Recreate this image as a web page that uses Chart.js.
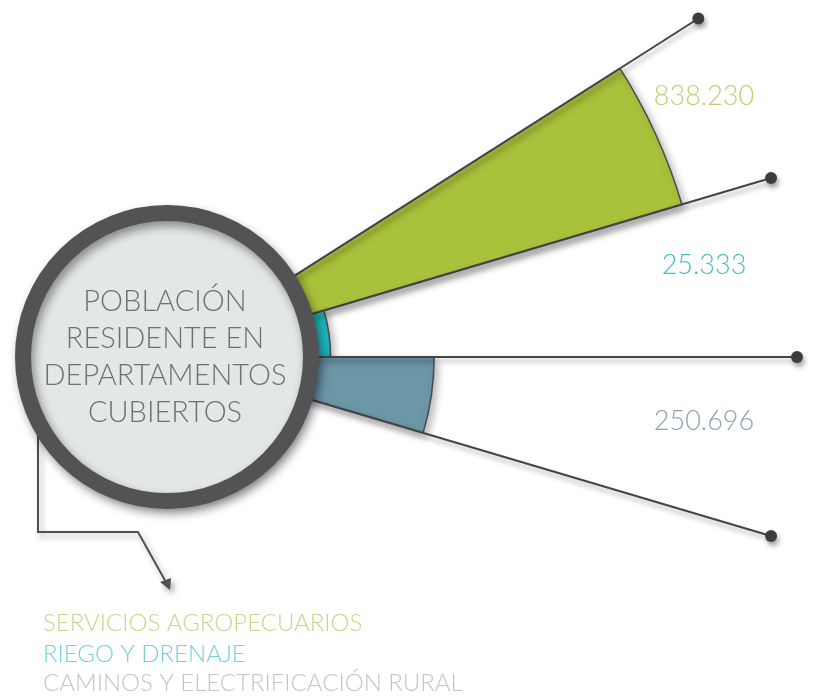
<!DOCTYPE html>
<html lang="es">
<head>
<meta charset="utf-8">
<title>Población residente en departamentos cubiertos</title>
<script src="https://cdn.jsdelivr.net/npm/chart.js@4.4.1/dist/chart.umd.min.js"></script>
<style>
  html, body { margin: 0; padding: 0; background: #fff; }
  #wrap { width: 830px; height: 699px; }
</style>
</head>
<body>
<div id="wrap"><canvas id="chart" width="830" height="699"></canvas></div>
<script>
// Población residente por programa
const categories  = ['SERVICIOS AGROPECUARIOS', 'RIEGO Y DRENAJE', 'CAMINOS Y ELECTRIFICACIÓN RURAL'];
const population  = [838230, 25333, 250696];
const valueLabels = ['838.230', '25.333', '250.696'];
const hubLines    = ['POBLACIÓN', 'RESIDENTE EN', 'DEPARTAMENTOS', 'CUBIERTOS'];

const sliceColors  = ['#a9c23b', '#1fb6bf', '#6b97a7'];
const labelColors  = ['#c6ca74', '#3fbdc8', '#8ca3ac'];
const legendColors = ['#d0d288', '#7ad0da', '#c2c6c8'];
const sliceAngles  = [16, 16.5, 16.5];   // apertura de cada cuña, en grados
const START_DEG    = -32.5;              // borde superior de la primera cuña (0 = derecha)

// Geometría
const CX = 167, CY = 357;   // centro del círculo
const AREA = 167;           // radio del área del gráfico
const HUB_R = 152;          // radio exterior del anillo (valor 0)
const RING_W = 16;
const OUTER_R = 537;        // radio de la cuña mayor
const SPOKE_LEN = 630;
const LABEL_DX = 537;
const FONT = 'Lato, "Liberation Sans", sans-serif';

// escala radial: 0 en el borde del anillo, máximo en OUTER_R
const pxPerUnit = (OUTER_R - HUB_R) / Math.max(...population);
const rMin = -HUB_R / pxPerUnit;
const rMax = rMin + AREA / pxPerUnit;

function shadow(ctx, blur, dx, dy, alpha) {
    ctx.shadowColor = `rgba(0,0,0,${alpha})`;
    ctx.shadowBlur = blur;
    ctx.shadowOffsetX = dx;
    ctx.shadowOffsetY = dy;
}

const decor = {
    id: 'decor',
    beforeDatasetsDraw(chart) {
        const ctx = chart.ctx;
        const s = chart.scales.r;
        // conector hacia la leyenda
        ctx.save();
        shadow(ctx, 6, 3, 4, 0.35);
        ctx.strokeStyle = '#505052';
        ctx.lineWidth = 2;
        ctx.beginPath();
        ctx.moveTo(s.xCenter - 129, s.yCenter);
        ctx.lineTo(s.xCenter - 129, 532);
        ctx.lineTo(138, 532);
        ctx.lineTo(167, 584);
        ctx.stroke();
        ctx.fillStyle = '#505052';
        ctx.beginPath();
        ctx.moveTo(170, 590);
        ctx.lineTo(160, 582);
        ctx.lineTo(171, 578);
        ctx.closePath();
        ctx.fill();
        ctx.restore();

        ctx.save();
        shadow(ctx, 8, 3, 4, 0.3);
    },
    afterDatasetsDraw(chart) {
        const ctx = chart.ctx;
        ctx.restore();
        const s = chart.scales.r;
        const cx = s.xCenter, cy = s.yCenter;
        const arcs = chart.getDatasetMeta(0).data;

        // radios que separan las cuñas
        const edges = [arcs[0].startAngle, ...arcs.map(a => a.endAngle)];
        ctx.save();
        shadow(ctx, 5, 2, 4, 0.35);
        ctx.strokeStyle = '#444446';
        ctx.fillStyle = '#3d3d3f';
        ctx.lineWidth = 2;
        edges.forEach(a => {
            const x = cx + Math.cos(a) * SPOKE_LEN;
            const y = cy + Math.sin(a) * SPOKE_LEN;
            ctx.beginPath();
            ctx.moveTo(cx, cy);
            ctx.lineTo(x, y);
            ctx.stroke();
            ctx.beginPath();
            ctx.arc(x, y, 6, 0, Math.PI * 2);
            ctx.fill();
        });
        ctx.restore();

        // círculo central
        ctx.save();
        shadow(ctx, 10, 3, 5, 0.4);
        ctx.beginPath();
        ctx.arc(cx, cy, HUB_R - RING_W / 2, 0, Math.PI * 2);
        ctx.fillStyle = '#e4e7e7';
        ctx.fill();
        ctx.lineWidth = RING_W;
        ctx.strokeStyle = '#535355';
        ctx.stroke();
        ctx.restore();

        ctx.save();
        ctx.textAlign = 'center';
        ctx.textBaseline = 'middle';
        ctx.fillStyle = '#6f7072';
        ctx.font = `300 29px ${FONT}`;
        hubLines.forEach((t, i) => {
            ctx.fillText(t, cx - 2, cy + (i - 1.5) * 37);
        });

        // valores
        ctx.font = `300 27px ${FONT}`;
        arcs.forEach((a, i) => {
            const mid = (a.startAngle + a.endAngle) / 2 - 1.4 * Math.PI / 180;
            ctx.fillStyle = labelColors[i];
            ctx.fillText(valueLabels[i], cx + LABEL_DX, cy + LABEL_DX * Math.tan(mid));
        });

        // leyenda
        ctx.textAlign = 'left';
        ctx.font = `300 24px ${FONT}`;
        const legendY = [623, 654, 683];
        categories.forEach((c, i) => {
            ctx.fillStyle = legendColors[i];
            ctx.fillText(c, 43, legendY[i]);
        });
        ctx.restore();
    }
};

new Chart(document.getElementById('chart'), {
    type: 'polarArea',
    data: {
        labels: categories,
        datasets: [{
            data: population,
            backgroundColor: sliceColors,
            borderColor: '#4a4a4c',
            borderWidth: 1.5,
            angle: ctx => sliceAngles[ctx.dataIndex],
            clip: false
        }]
    },
    options: {
        responsive: false,
        devicePixelRatio: 1,
        animation: false,
        layout: {
            padding: { left: CX - AREA, top: CY - AREA, right: 830 - CX - AREA, bottom: 699 - CY - AREA }
        },
        plugins: {
            legend: { display: false },
            tooltip: { enabled: false }
        },
        scales: {
            r: {
                display: false,
                min: rMin,
                max: rMax,
                startAngle: 90 + START_DEG
            }
        }
    },
    plugins: [decor]
});
</script>
</body>
</html>
